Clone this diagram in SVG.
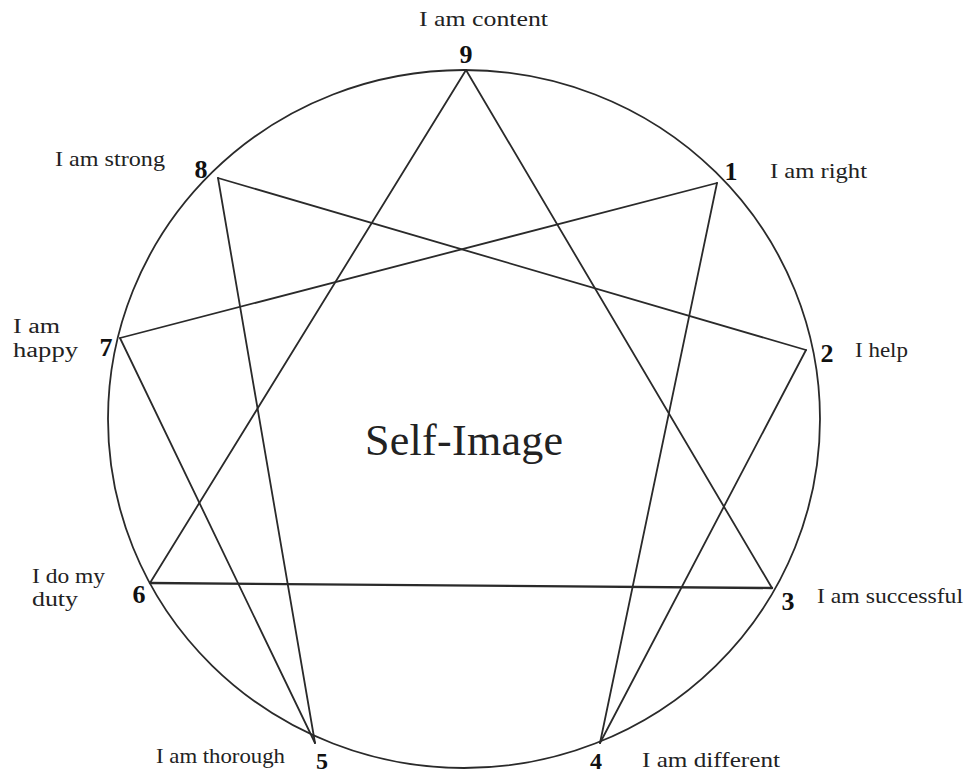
<svg xmlns="http://www.w3.org/2000/svg" width="967" height="775" viewBox="0 0 967 775">
<style>
.ln{stroke:#2a2a2a;stroke-width:1.8;fill:none;stroke-linecap:round}
.num{font-family:"Liberation Serif",serif;font-size:26px;font-weight:bold;fill:#111;text-anchor:middle}
.bot{font-size:24px}
.lbl{font-family:"Liberation Serif",serif;font-size:22px;fill:#222}
.sm{font-size:20px}
.title{font-family:"Liberation Serif",serif;font-size:44px;fill:#222;text-anchor:middle}
</style>
<rect width="967" height="775" fill="#fff"/>
<g id="circle"><ellipse class="ln" cx="464" cy="419" rx="356" ry="349"/></g>
<g id="connectors">
<line class="ln" x1="466" y1="70" x2="772" y2="588"/>
<line class="ln" x1="466" y1="70" x2="150" y2="583"/>
<line class="ln" x1="150" y1="583" x2="772" y2="588" style="stroke-width:2.4"/>
<line class="ln" x1="717" y1="183" x2="600" y2="743"/>
<line class="ln" x1="600" y1="743" x2="806" y2="350"/>
<line class="ln" x1="806" y1="350" x2="218" y2="178"/>
<line class="ln" x1="218" y1="178" x2="315" y2="743"/>
<line class="ln" x1="315" y1="743" x2="120" y2="338"/>
<line class="ln" x1="120" y1="338" x2="717" y2="183"/>
</g>
<g id="n9"><text class="num" x="466" y="63">9</text><text class="lbl" x="419" y="26" textLength="129" lengthAdjust="spacingAndGlyphs">I am content</text></g>
<g id="n1"><text class="num" x="731" y="180">1</text><text class="lbl" x="770" y="178" textLength="97" lengthAdjust="spacingAndGlyphs">I am right</text></g>
<g id="n2"><text class="num" x="827" y="362">2</text><text class="lbl" x="855" y="357" textLength="53" lengthAdjust="spacingAndGlyphs">I help</text></g>
<g id="n3"><text class="num" x="788" y="610">3</text><text class="lbl" x="817" y="603" textLength="146" lengthAdjust="spacingAndGlyphs">I am successful</text></g>
<g id="n4"><text class="num bot" x="596" y="769">4</text><text class="lbl" x="642" y="767" textLength="138" lengthAdjust="spacingAndGlyphs">I am different</text></g>
<g id="n5"><text class="num bot" x="322" y="769">5</text><text class="lbl" x="156" y="763" textLength="129" lengthAdjust="spacingAndGlyphs">I am thorough</text></g>
<g id="n6"><text class="num" x="139" y="603">6</text><text class="lbl sm" x="32" y="583" textLength="73" lengthAdjust="spacingAndGlyphs">I do my</text><text class="lbl sm" x="32" y="606" textLength="46" lengthAdjust="spacingAndGlyphs">duty</text></g>
<g id="n7"><text class="num" x="106" y="356">7</text><text class="lbl sm" x="13" y="333" textLength="47" lengthAdjust="spacingAndGlyphs">I am</text><text class="lbl sm" x="13" y="357" textLength="65" lengthAdjust="spacingAndGlyphs">happy</text></g>
<g id="n8"><text class="num" x="201" y="178">8</text><text class="lbl" x="55" y="166" textLength="110" lengthAdjust="spacingAndGlyphs">I am strong</text></g>
<g id="center"><text class="title" x="464" y="455" textLength="198">Self-Image</text></g>
</svg>
